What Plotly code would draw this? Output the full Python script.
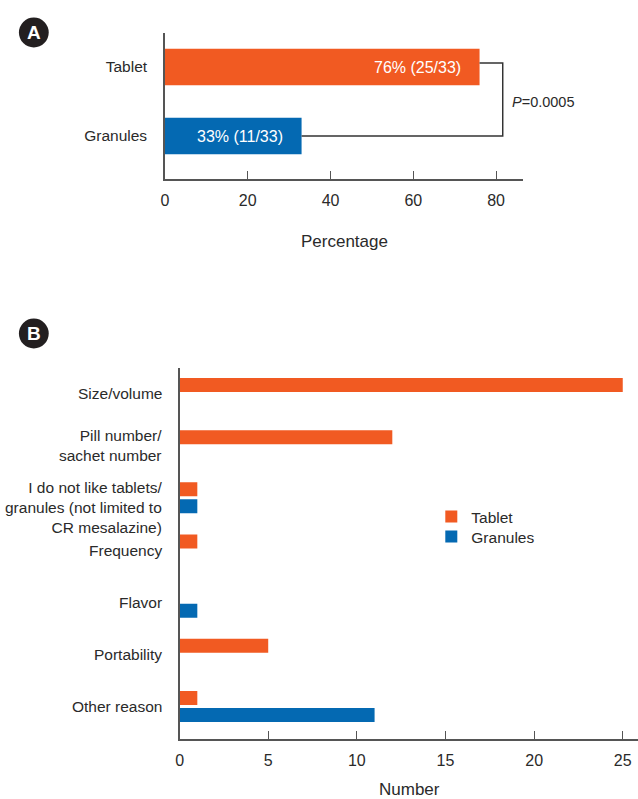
import plotly.graph_objects as go

# ---------------- data ----------------
# Panel A
a_groups = ["Granules", "Tablet"]
a_percent = [33, 76]
a_labels = ["33% (11/33)", "76% (25/33)"]
a_pvalue = "<i>P</i>=0.0005"
a_ticks = [0, 20, 40, 60, 80]

# Panel B
b_reasons = [
    "Size/volume",
    "Pill number/<br>sachet number",
    "I do not like tablets/<br>granules (not limited to<br>CR mesalazine)",
    "Frequency",
    "Flavor",
    "Portability",
    "Other reason",
]
b_tablet = [25, 12, 1, 1, 0, 5, 1]
b_granules = [0, 0, 1, 0, 1, 0, 11]
b_ticks = [0, 5, 10, 15, 20, 25]

ORANGE = "#F15A22"
BLUE = "#0469B2"
TXT = "#2a2a2a"
AXC = "#555555"
FONT = "Liberation Sans, Arial, sans-serif"

W, H = 638, 799
def px_x(p):
    return p / W
def px_y(p):
    return 1 - p / H

fig = go.Figure()

# Panel A bars
fig.add_trace(go.Bar(
    y=a_groups, x=a_percent, orientation="h",
    marker=dict(color=[BLUE, ORANGE], line=dict(width=0)),
    width=0.526, showlegend=False, hoverinfo="skip",
    xaxis="x", yaxis="y",
))

# Panel B bars
fig.add_trace(go.Bar(
    y=b_reasons, x=b_tablet, orientation="h", name="Tablet",
    marker=dict(color=ORANGE, line=dict(width=0)),
    xaxis="x2", yaxis="y2", legend="legend",
))
fig.add_trace(go.Bar(
    y=b_reasons, x=b_granules, orientation="h", name="Granules",
    marker=dict(color=BLUE, line=dict(width=0)),
    xaxis="x2", yaxis="y2", legend="legend2",
))

axis_common = dict(
    showline=True, linecolor=AXC, linewidth=1.5, showgrid=False,
    zeroline=False,
)
num_font = dict(family=FONT, size=16, color=TXT)
cat_font = dict(family=FONT, size=15.5, color=TXT)

legend_common = dict(
    xanchor="left", yanchor="middle", bgcolor="rgba(0,0,0,0)",
    font=cat_font, itemwidth=30,
)

fig.update_layout(
    width=W, height=H,
    margin=dict(l=0, r=0, t=0, b=0),
    paper_bgcolor="white", plot_bgcolor="white",
    font=dict(family=FONT, color=TXT),
    barmode="group", bargap=0.348, bargroupgap=0.176,
    xaxis=dict(
        domain=[px_x(162), px_x(522.7)], range=[0, 86.6], anchor="y",
        tickvals=a_ticks, ticks="inside", ticklen=8, tickwidth=1.2, tickcolor=AXC,
        ticklabelstandoff=6, tickfont=num_font, **axis_common,
    ),
    yaxis=dict(
        domain=[px_y(179), px_y(33)], range=[-0.623, 1.493], anchor="x",
        type="category", categoryarray=a_groups, ticks="",
        ticklabelstandoff=13, tickfont=cat_font, **axis_common,
    ),
    xaxis2=dict(
        domain=[px_x(176.7), 1.0], range=[0, 25.86], anchor="y2",
        tickvals=b_ticks, ticks="inside", ticklen=8, tickwidth=1.2, tickcolor=AXC,
        ticklabelstandoff=6, tickfont=num_font, **axis_common,
    ),
    yaxis2=dict(
        domain=[px_y(739), px_y(368)], range=[6.623, -0.489], anchor="x2",
        type="category", categoryarray=b_reasons, ticks="",
        showticklabels=False, **axis_common,
    ),
    legend=dict(x=px_x(430), y=px_y(517), **legend_common),
    legend2=dict(x=px_x(430), y=px_y(537), **legend_common),
)

# category labels for panel B (placed next to the axis)
label_shift = [0, 0, -10, 0, 0, 0, 0]
for r, s in zip(b_reasons, label_shift):
    fig.add_annotation(
        x=0, y=r, xref="x2", yref="y2", text=r, showarrow=False,
        xanchor="right", yanchor="middle", align="right", xshift=-16, yshift=s,
        font=cat_font,
    )

# bar labels inside panel A bars
for g, v, t in zip(a_groups, a_percent, a_labels):
    fig.add_annotation(
        x=v, y=g, xref="x", yref="y", text=t, showarrow=False,
        xanchor="right", yanchor="middle", xshift=-17,
        font=dict(family=FONT, size=16, color="white"),
    )

# significance bracket
bx = max(a_percent) + 5.6
fig.add_shape(
    type="path", xref="x", yref="y",
    path=f"M {a_percent[1]},1.06 L {bx},1.06 L {bx},0.0 L {a_percent[0]},0.0",
    line=dict(color="#333333", width=1.5),
)
fig.add_annotation(
    x=bx, y=0.5, xref="x", yref="y", text=a_pvalue, showarrow=False,
    xanchor="left", yanchor="middle", xshift=7,
    font=dict(family=FONT, size=14.5, color=TXT),
)

# axis titles
fig.add_annotation(
    x=(162 + 522.7) / 2 / W, y=px_y(241), xref="paper", yref="paper",
    text="Percentage", showarrow=False, xanchor="center", yanchor="middle",
    font=dict(family=FONT, size=17, color=TXT),
)
fig.add_annotation(
    x=408 / W, y=px_y(789), xref="paper", yref="paper",
    text="Number", showarrow=False, xanchor="center", yanchor="middle",
    font=dict(family=FONT, size=17, color=TXT),
)

# panel badges
for letter, cy in (("A", 32.5), ("B", 333.5)):
    fig.add_shape(
        type="circle", xref="paper", yref="paper",
        x0=px_x(15), x1=px_x(45), y0=px_y(cy + 15), y1=px_y(cy - 15),
        fillcolor="#231f20", line=dict(width=0),
    )
    fig.add_annotation(
        x=px_x(30), y=px_y(cy), xref="paper", yref="paper", text=f"<b>{letter}</b>",
        showarrow=False, xanchor="center", yanchor="middle",
        font=dict(family=FONT, size=19, color="white"),
    )

fig.write_html("out.html")
